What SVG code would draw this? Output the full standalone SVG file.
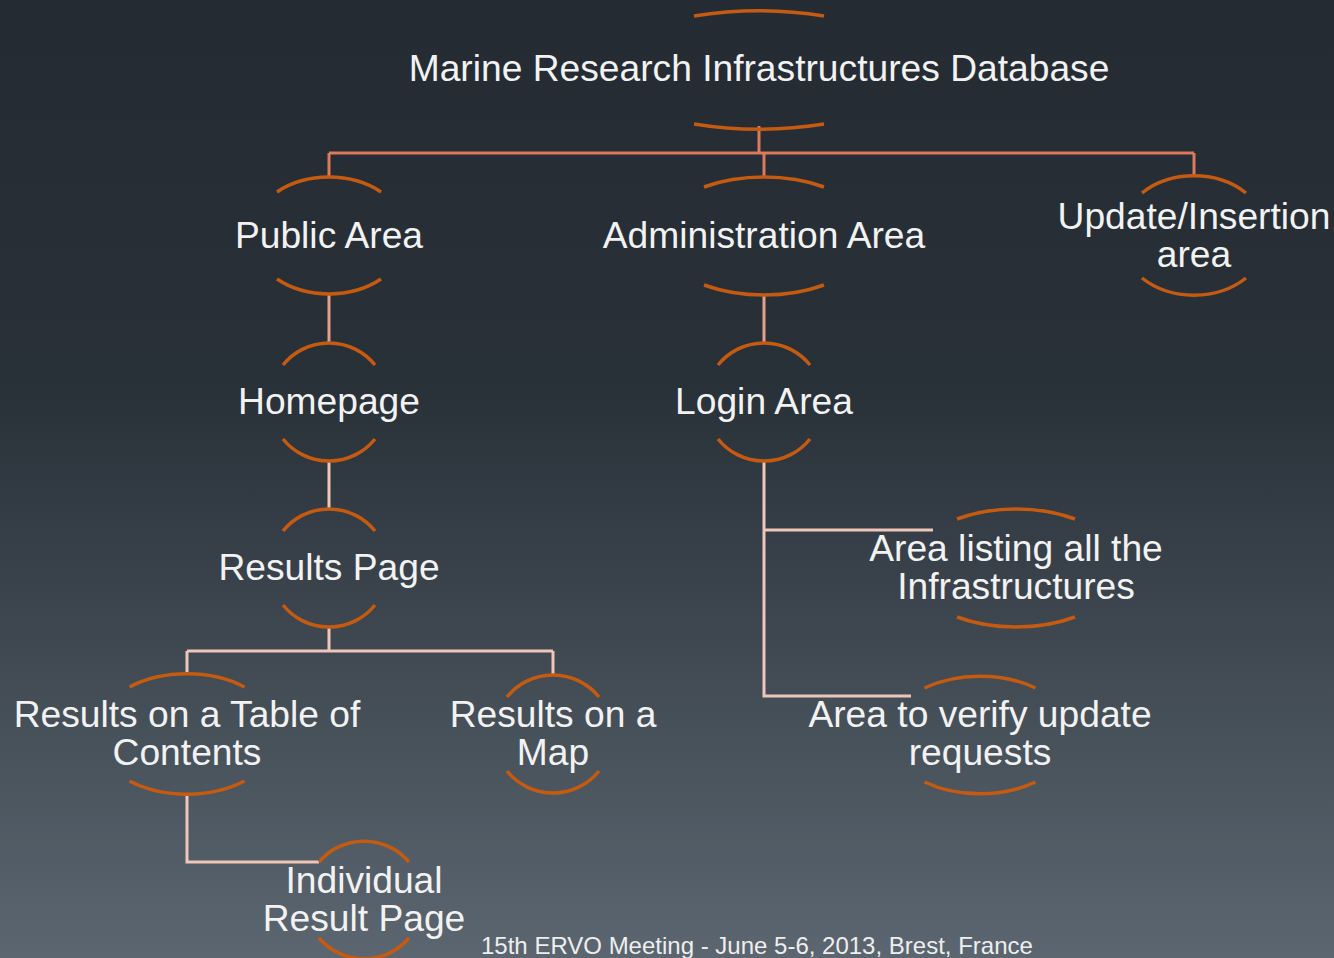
<svg xmlns="http://www.w3.org/2000/svg" width="1334" height="958" viewBox="0 0 1334 958">
<defs>
<linearGradient id="bg" x1="0" y1="0" x2="0" y2="1">
<stop offset="0" stop-color="#252b33"/>
<stop offset="0.4" stop-color="#283038"/>
<stop offset="1" stop-color="#5b6670"/>
</linearGradient>
<style>
.arc{fill:none;stroke:#c55a11;stroke-width:3.5}
.t{font-family:"Liberation Sans",Arial,sans-serif;font-size:37.2px;fill:#f2f2f2;text-anchor:middle}
.c1{fill:none;stroke:#dc7b5c;stroke-width:3}
.c2{fill:none;stroke:#e3a08a;stroke-width:3}
.c3{fill:none;stroke:#eec6ba;stroke-width:3}
.foot{font-family:"Liberation Sans",Arial,sans-serif;font-size:24px;fill:#eeeeee}
</style>
</defs>
<rect width="1334" height="958" fill="url(#bg)"/>
<g id="connectors">
<path class="c1" d="M759 126 V153 M329 153 H1194 M329 153 V178 M764 153 V178 M1194 153 V177"/>
<path class="c2" d="M329 293 V344 M764 294 V344"/>
<path class="c3" d="M329 460 V510 M329 626 V651 M187 651 H553 M187 651 V675 M553 651 V676"/>
<path class="c3" d="M764 460 V696 H911 M764 530 H933"/>
<path class="c3" d="M187 793 V862 H319"/>
</g>
<g id="node-root">
<path class="arc" d="M694 16 A161 59 0 0 1 824 16 M694 124 A161 59 0 0 0 824 124"/>
<text class="t" x="759" y="81">Marine Research Infrastructures Database</text>
</g>
<g id="node-public">
<path class="arc" d="M277 192 A78 58.5 0 0 1 381 192 M277 279 A78 58.5 0 0 0 381 279"/>
<text class="t" x="329" y="248">Public Area</text>
</g>
<g id="node-admin">
<path class="arc" d="M704 187 A108 59 0 0 1 824 187 M704 285 A108 59 0 0 0 824 285"/>
<text class="t" x="764" y="248">Administration Area</text>
</g>
<g id="node-update">
<path class="arc" d="M1142 193 A74 59.5 0 0 1 1246 193 M1142 278 A74 59.5 0 0 0 1246 278"/>
<text class="t" x="1194" y="229">Update/Insertion</text>
<text class="t" x="1194" y="267">area</text>
</g>
<g id="node-homepage">
<path class="arc" d="M283 365 A59 59 0 0 1 375 365 M283 439 A59 59 0 0 0 375 439"/>
<text class="t" x="329" y="414">Homepage</text>
</g>
<g id="node-login">
<path class="arc" d="M718 365 A59 59 0 0 1 810 365 M718 439 A59 59 0 0 0 810 439"/>
<text class="t" x="764" y="414">Login Area</text>
</g>
<g id="node-results">
<path class="arc" d="M283 531 A59 59 0 0 1 375 531 M283 605 A59 59 0 0 0 375 605"/>
<text class="t" x="329" y="580">Results Page</text>
</g>
<g id="node-listing">
<path class="arc" d="M957 519 A106 59 0 0 1 1075 519 M957 617 A106 59 0 0 0 1075 617"/>
<text class="t" x="1016" y="561">Area listing all the</text>
<text class="t" x="1016" y="599">Infrastructures</text>
</g>
<g id="node-table">
<path class="arc" d="M129.5 687 A92 60 0 0 1 244.5 687 M129.5 781 A92 60 0 0 0 244.5 781"/>
<text class="t" x="187" y="727">Results on a Table of</text>
<text class="t" x="187" y="765">Contents</text>
</g>
<g id="node-map">
<path class="arc" d="M507 697 A59 59 0 0 1 599 697 M507 771 A59 59 0 0 0 599 771"/>
<text class="t" x="553" y="727">Results on a</text>
<text class="t" x="553" y="765">Map</text>
</g>
<g id="node-verify">
<path class="arc" d="M924.5 688 A92.5 59 0 0 1 1035.5 688 M924.5 782 A92.5 59 0 0 0 1035.5 782"/>
<text class="t" x="980" y="727">Area to verify update</text>
<text class="t" x="980" y="765">requests</text>
</g>
<g id="node-individual">
<path class="arc" d="M319 862 A59 59 0 0 1 409 862 M319 938 A59 59 0 0 0 409 938"/>
<text class="t" x="364" y="893">Individual</text>
<text class="t" x="364" y="931">Result Page</text>
</g>
<text class="foot" x="481" y="954">15th ERVO Meeting - June 5-6, 2013, Brest, France</text>
</svg>
